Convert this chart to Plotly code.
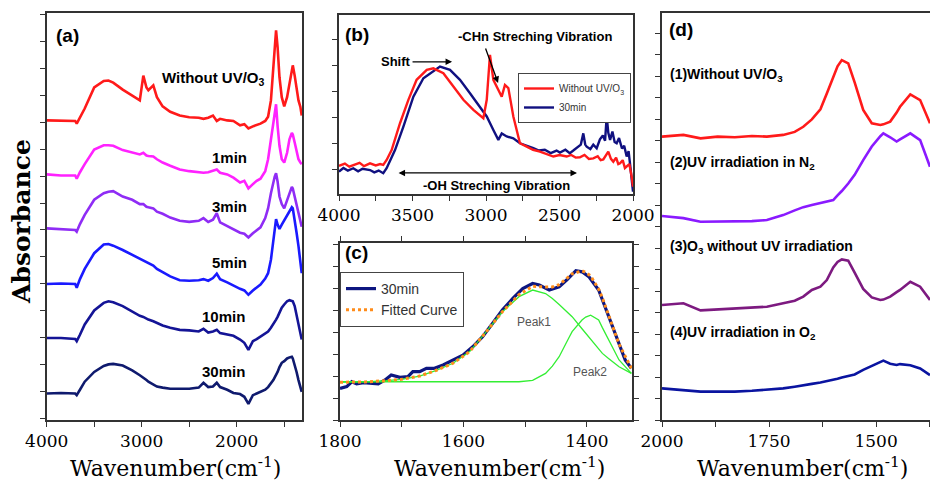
import plotly.graph_objects as go

# ---------------- data ----------------
# Panel (a): FTIR spectra vs UV/O3 time (stacked)
A_WN = [4000, 3850, 3700, 3684, 3650, 3600, 3500, 3400, 3350, 3300, 3200, 3100, 3020, 2983, 2950,
        2930, 2878, 2840, 2780, 2700, 2600, 2500, 2400, 2350, 2300, 2250, 2210, 2175, 2100, 2035,
        1965, 1920, 1877, 1830, 1790, 1750, 1700, 1670, 1640, 1615, 1600, 1586, 1570, 1550, 1526,
        1500, 1470, 1445, 1420, 1410, 1390, 1370, 1350, 1330, 1316]
A_WITHOUT = [0.03, 0.02, 0.02, -0.03, 0.08, 0.25, 0.64, 0.76, 0.77, 0.73, 0.60, 0.49, 0.40, 0.86, 0.64,
             0.59, 0.68, 0.46, 0.29, 0.19, 0.12, 0.09, 0.08, 0.06, 0.08, 0.12, 0.02, 0.06, 0.03, 0.02,
             -0.06, -0.04, -0.12, -0.08, -0.06, -0.03, 0.02, 0.10, 0.40, 1.02, 1.39, 1.70, 1.39, 0.83, 0.46,
             0.29, 0.46, 0.71, 1.02, 1.05, 0.86, 0.65, 0.40, 0.28, 0.12]
A_1MIN = [0.03, 0.01, 0.01, -0.05, 0.07, 0.22, 0.49, 0.57, 0.57, 0.56, 0.48, 0.43, 0.40, 0.43, 0.38,
          0.37, 0.36, 0.31, 0.25, 0.19, 0.12, 0.09, 0.07, 0.06, 0.07, 0.09, 0.12, 0.06, 0.03, -0.03,
          -0.12, -0.09, -0.23, -0.15, -0.09, -0.05, 0.09, 0.31, 0.68, 0.99, 1.17, 1.33, 0.93, 0.56, 0.31,
          0.25, 0.43, 0.68, 0.80, 0.77, 0.62, 0.46, 0.31, 0.25, 0.22]
A_3MIN = [0.03, 0.01, 0.00, -0.03, 0.11, 0.28, 0.56, 0.68, 0.71, 0.72, 0.62, 0.56, 0.48, 0.48, 0.43,
          0.42, 0.40, 0.34, 0.30, 0.23, 0.17, 0.15, 0.17, 0.22, 0.15, 0.19, 0.31, 0.14, 0.07, 0.01,
          -0.05, -0.07, -0.14, -0.06, 0.00, 0.05, 0.22, 0.40, 0.68, 0.90, 0.99, 1.05, 0.90, 0.62, 0.48,
          0.40, 0.56, 0.71, 0.80, 0.77, 0.62, 0.46, 0.28, 0.15, 0.06]
A_5MIN = [0.00, 0.01, 0.00, -0.07, 0.09, 0.28, 0.57, 0.73, 0.74, 0.71, 0.63, 0.54, 0.46, 0.43, 0.40,
          0.38, 0.34, 0.28, 0.22, 0.14, 0.07, 0.06, 0.07, 0.09, 0.06, 0.11, 0.19, 0.09, 0.03, -0.03,
          -0.09, -0.12, -0.20, -0.12, -0.06, -0.01, 0.10, 0.20, 0.45, 0.80, 1.05, 1.20, 1.10, 1.02, 1.10,
          1.18, 1.28, 1.36, 1.42, 1.40, 1.20, 0.95, 0.70, 0.42, 0.20]
A_10MIN = [0.00, 0.00, -0.02, -0.06, 0.06, 0.25, 0.51, 0.65, 0.68, 0.66, 0.59, 0.49, 0.41, 0.39, 0.35,
           0.34, 0.31, 0.28, 0.23, 0.19, 0.15, 0.14, 0.12, 0.17, 0.10, 0.12, 0.15, 0.09, 0.06, 0.04,
           -0.03, -0.09, -0.22, -0.06, -0.02, 0.03, 0.08, 0.12, 0.19, 0.25, 0.29, 0.34, 0.39, 0.46, 0.56,
           0.62, 0.68, 0.70, 0.69, 0.68, 0.59, 0.43, 0.25, 0.09, -0.03]
A_30MIN = [-0.03, -0.02, -0.03, -0.06, 0.04, 0.19, 0.37, 0.48, 0.51, 0.52, 0.49, 0.40, 0.31, 0.27, 0.22,
           0.19, 0.14, 0.10, 0.08, 0.06, 0.06, 0.06, 0.08, 0.17, 0.09, 0.10, 0.17, 0.09, 0.04, -0.02,
           -0.04, -0.09, -0.22, -0.06, -0.03, 0.00, 0.04, 0.09, 0.15, 0.22, 0.27, 0.31, 0.37, 0.46, 0.54,
           0.57, 0.62, 0.64, 0.65, 0.62, 0.51, 0.37, 0.22, 0.09, 0.00]
A_SERIES = [A_WITHOUT, A_1MIN, A_3MIN, A_5MIN, A_10MIN, A_30MIN]
A_LABELS = ["Without UV/O<sub>3</sub>", "1min", "3min", "5min", "10min", "30min"]

# Panel (b): OH / CHn stretching region
B_RED_WN = [4000, 3960, 3930, 3903, 3860, 3830, 3789, 3750, 3720, 3699, 3676, 3642, 3585, 3528, 3472,
            3403, 3358, 3290, 3222, 3154, 3086, 3018, 2995, 2973, 2950, 2916, 2893, 2871, 2848, 2814,
            2769, 2723, 2680, 2633, 2590, 2542, 2500, 2451, 2420, 2390, 2361, 2330, 2300, 2270, 2240,
            2220, 2202, 2185, 2168, 2150, 2134, 2115, 2100, 2088, 2070, 2055, 2043, 2025, 2009, 2000]
B_RED = [0.13, 0.22, 0.10, 0.17, 0.25, 0.12, 0.23, 0.15, 0.20, 0.17, 0.36, 0.74, 1.77, 2.67, 3.44,
         3.82, 3.88, 3.69, 3.18, 2.67, 2.28, 1.96, 2.67, 4.40, 3.44, 3.05, 2.79, 3.24, 3.12, 2.03,
         1.00, 0.87, 0.75, 0.68, 0.58, 0.49, 0.55, 0.49, 0.55, 0.45, 0.46, 0.55, 0.40, 0.42, 0.50,
         0.35, 0.38, 0.55, 0.68, 0.40, 0.29, 0.45, 0.20, 0.23, 0.35, 0.05, 0.10, 0.20, -0.28, -0.67]
B_BLUE_WN = [4000, 3970, 3940, 3903, 3870, 3840, 3789, 3760, 3730, 3699, 3676, 3619, 3562, 3494, 3426,
             3358, 3313, 3245, 3177, 3109, 3041, 2995, 2950, 2916, 2893, 2859, 2814, 2769, 2678, 2640,
             2600, 2560, 2520, 2497, 2460, 2430, 2406, 2380, 2355, 2338, 2325, 2315, 2290, 2270, 2247,
             2225, 2205, 2190, 2179, 2168, 2156, 2140, 2125, 2111, 2095, 2075, 2060, 2043, 2030, 2020,
             2009, 2000]
B_BLUE = [-0.09, 0.05, -0.05, 0.04, -0.08, 0.02, -0.03, -0.12, -0.05, -0.15, 0.04, 0.74, 1.64, 2.79, 3.50,
          3.76, 3.95, 3.82, 3.44, 2.92, 2.41, 2.03, 1.51, 1.13, 1.38, 1.26, 1.19, 1.00, 0.81, 0.72,
          0.75, 0.62, 0.72, 0.64, 0.75, 0.62, 0.72, 0.85, 0.95, 1.38, 0.95, 0.87, 0.78, 0.95, 0.81,
          1.15, 1.30, 1.10, 2.03, 1.40, 1.13, 1.45, 1.05, 1.00, 1.20, 0.80, 0.90, 0.49, 0.70, 0.20,
          -0.28, -0.86]

# Panel (c): peak fitting of the 30min spectrum
C_WN = [1800, 1789, 1781, 1773, 1762, 1752, 1738, 1727, 1717, 1703, 1690, 1682, 1671, 1660, 1647,
        1633, 1617, 1601, 1585, 1569, 1553, 1537, 1520, 1504, 1488, 1477, 1461, 1445, 1432, 1418,
        1408, 1397, 1381, 1365, 1348, 1338, 1328]
C_30MIN = [1.44, 1.52, 1.74, 1.64, 1.70, 1.67, 1.64, 1.82, 2.05, 1.94, 1.97, 2.20, 2.20, 2.35, 2.35,
           2.50, 2.73, 2.95, 3.33, 3.79, 4.39, 5.00, 5.53, 5.98, 6.21, 6.14, 5.91, 6.06, 6.39, 6.79,
           6.74, 6.52, 5.91, 4.70, 3.48, 2.73, 2.35]
C_FIT_WN = [1800, 1760, 1725, 1700, 1671, 1645, 1617, 1590, 1563, 1537, 1510, 1488, 1467, 1456, 1445,
            1429, 1424, 1408, 1402, 1394, 1381, 1375, 1365, 1348, 1328]
C_FITTED = [1.72, 1.73, 1.79, 1.85, 2.00, 2.25, 2.58, 3.11, 4.02, 4.92, 5.70, 6.08, 6.05, 6.05, 6.15,
            6.50, 6.65, 6.78, 6.72, 6.55, 5.95, 5.55, 4.75, 3.45, 2.35]
C_PEAK1 = [1.72, 1.73, 1.79, 1.85, 2.00, 2.25, 2.58, 3.11, 4.02, 4.92, 5.61, 5.91, 5.75, 5.53, 5.25,
           4.85, 4.70, 4.15, 3.94, 3.65, 3.20, 3.03, 2.80, 2.42, 2.12]
C_PEAK2 = [1.74, 1.74, 1.74, 1.74, 1.74, 1.74, 1.74, 1.74, 1.74, 1.74, 1.74, 1.80, 2.12, 2.45, 2.88,
           3.75, 4.02, 4.55, 4.68, 4.77, 4.55, 4.20, 3.64, 2.73, 2.12]

# Panel (d): different treatments
D_WN = [2000, 1950, 1910, 1870, 1830, 1790, 1755, 1717, 1690, 1670, 1650, 1630, 1615, 1600,
        1590, 1580, 1565, 1550, 1530, 1510, 1490, 1483, 1467, 1452, 1444, 1420, 1397, 1374]
D_1 = [13.18, 13.26, 13.10, 13.18, 13.15, 13.21, 13.18, 13.26, 13.40, 13.64, 13.98, 14.45, 15.19, 15.95,
       16.45, 16.74, 16.59, 15.70, 14.42, 13.80, 13.72, 13.75, 13.88, 14.30, 14.57, 15.14, 14.88, 13.80]
D_2 = [9.49, 9.39, 9.22, 9.22, 9.22, 9.25, 9.30, 9.53, 9.75, 9.90, 10.00, 10.10, 10.15, 10.23,
       10.45, 10.65, 11.00, 11.40, 12.09, 12.72, 13.20, 13.33, 13.15, 12.95, 13.05, 13.33, 13.02, 11.78]
D_3 = [5.35, 5.43, 5.10, 5.15, 5.19, 5.22, 5.27, 5.43, 5.55, 5.74, 6.05, 6.20, 6.51, 7.10,
       7.35, 7.47, 7.41, 6.85, 6.10, 5.70, 5.58, 5.60, 5.74, 5.95, 6.05, 6.43, 6.20, 5.58]
D_4 = [1.47, 1.40, 1.32, 1.32, 1.32, 1.36, 1.40, 1.47, 1.55, 1.63, 1.68, 1.74, 1.80, 1.86,
       1.92, 1.98, 2.05, 2.12, 2.33, 2.50, 2.68, 2.76, 2.62, 2.56, 2.60, 2.55, 2.40, 2.09]
D_SERIES = [D_1, D_2, D_3, D_4]
D_LABELS = ["(1)Without UV/O<sub>3</sub>", "(2)UV irradiation in N<sub>2</sub>",
            "(3)O<sub>3</sub> without UV irradiation", "(4)UV irradiation in O<sub>2</sub>"]

# ---------------- styles ----------------
A_COLORS = ["#ff1a1a", "#ff22ff", "#8f2cf5", "#1a1aff", "#141496", "#0f1a6e"]
A_OFFSETS = [5, 4, 3, 2, 1, 0]
D_COLORS = ["#ff1a1a", "#8a1aff", "#7d1a80", "#0a14a0"]
AXC = "#333333"
SERIF = "DejaVu Serif"
SANS = "Liberation Sans"

fig = go.Figure()

for vals, off, col in zip(A_SERIES, A_OFFSETS, A_COLORS):
    fig.add_trace(go.Scatter(x=A_WN, y=[v + off for v in vals], mode="lines",
                             line=dict(color=col, width=2.6), xaxis="x", yaxis="y",
                             showlegend=False, hoverinfo="skip"))

fig.add_trace(go.Scatter(x=B_BLUE_WN, y=B_BLUE, mode="lines", name="30min",
                         line=dict(color="#101080", width=2.4), xaxis="x2", yaxis="y2",
                         legend="legend", legendrank=2))
fig.add_trace(go.Scatter(x=B_RED_WN, y=B_RED, mode="lines", name="Without UV/O<sub>3</sub>",
                         line=dict(color="#ff1a1a", width=2.4), xaxis="x2", yaxis="y2",
                         legend="legend", legendrank=1))

fig.add_trace(go.Scatter(x=C_WN, y=C_30MIN, mode="lines", name="30min",
                         line=dict(color="#0d1680", width=3.2), xaxis="x3", yaxis="y3",
                         legend="legend2", legendrank=1))
fig.add_trace(go.Scatter(x=C_FIT_WN, y=C_PEAK1, mode="lines", line=dict(color="#33ee33", width=1.3),
                         xaxis="x3", yaxis="y3", showlegend=False))
fig.add_trace(go.Scatter(x=C_FIT_WN, y=C_PEAK2, mode="lines", line=dict(color="#33ee33", width=1.3),
                         xaxis="x3", yaxis="y3", showlegend=False))
fig.add_trace(go.Scatter(x=C_FIT_WN, y=C_FITTED, mode="lines", name="Fitted Curve",
                         line=dict(color="#ff8c1a", width=3, dash="dot"), xaxis="x3", yaxis="y3",
                         legend="legend2", legendrank=2))

for vals, col in zip(D_SERIES, D_COLORS):
    fig.add_trace(go.Scatter(x=D_WN, y=vals, mode="lines", line=dict(color=col, width=2.6),
                             xaxis="x4", yaxis="y4", showlegend=False))


def xax(domain, rng, anchor, tickvals, minor_dtick, mirror=True):
    return dict(domain=domain, range=rng, anchor=anchor, tickmode="array", tickvals=tickvals,
                ticks="outside", ticklen=5, tickwidth=1.2, tickcolor=AXC, automargin=False,
                showline=True, linecolor=AXC, linewidth=1.5, mirror=mirror,
                showgrid=False, zeroline=False,
                minor=dict(dtick=minor_dtick, tick0=0, ticks="outside", ticklen=5,
                           tickwidth=1.2, tickcolor=AXC),
                tickfont=dict(family=SERIF, size=17, color="black"))


def yax(domain, rng, anchor, dtick, minor_dtick=None, mirror=True):
    d = dict(domain=domain, range=rng, anchor=anchor, tick0=0, dtick=dtick,
             ticks="outside", ticklen=5, tickwidth=1.2, tickcolor=AXC, automargin=False,
             showline=True, linecolor=AXC, linewidth=1.5, mirror=mirror,
             showgrid=False, zeroline=False, showticklabels=False)
    if minor_dtick:
        d["minor"] = dict(dtick=minor_dtick, tick0=0, ticks="outside", ticklen=5,
                          tickwidth=1.2, tickcolor=AXC)
    return d


W, H = 930, 481
dom_a_x = [46.7 / W, 302 / W]
dom_b_x = [339 / W, 633 / W]
dom_c_x = [340 / W, 632 / W]
dom_d_x = [662 / W, 1.0]
dom_full_y = [(H - 420) / H, (H - 13) / H]
dom_b_y = [(H - 194) / H, (H - 15) / H]
dom_c_y = [(H - 420) / H, (H - 243) / H]

layout = dict(
    template="none", autosize=False,
    width=W, height=H, margin=dict(l=0, r=0, t=0, b=0, pad=0),
    paper_bgcolor="white", plot_bgcolor="white",
    xaxis=xax(dom_a_x, [4000, 1313], "y", [4000, 3000, 2000], 500),
    yaxis=yax(dom_full_y, [-0.52, 7.02], "x", 1, 0.5, mirror=True),
    xaxis2=xax(dom_b_x, [4000, 2000], "y2", [4000, 3500, 3000, 2500, 2000], 250),
    yaxis2=yax(dom_b_y, [-0.95, 5.93], "x2", 1),
    xaxis3=xax(dom_c_x, [1800, 1327], "y3", [1800, 1600, 1400], 100, mirror="ticks"),
    yaxis3=yax(dom_c_y, [0, 8.05], "x3", 1, mirror="ticks"),
    xaxis4=xax(dom_d_x, [2000, 1374], "y4", [2000, 1750, 1500], 125),
    yaxis4=yax(dom_full_y, [0, 18.93], "x4", 1, mirror=False),
    legend=dict(x=518 / W, y=(H - 73) / H, xanchor="left", yanchor="top",
                bordercolor="#444", borderwidth=1, bgcolor="white",
                font=dict(family=SANS, size=10, color="#333"), tracegroupgap=0, itemwidth=30),
    legend2=dict(x=340 / W, y=(H - 272) / H, xanchor="left", yanchor="top",
                 bordercolor="#444", borderwidth=1, bgcolor="white",
                 font=dict(family=SANS, size=14, color="#333"), tracegroupgap=0, itemwidth=30),
    showlegend=True,
)
fig.update_layout(**layout)

ann = []
# panel letters
for txt, xr, yr, x, y in [("(a)", "x", "y", 3786, 6.61), ("(b)", "x2", "y2", 3878, 5.17),
                          ("(c)", "x3", "y3", 1774, 7.62), ("(d)", "x4", "y4", 1956, 18.14)]:
    ann.append(dict(text="<b>" + txt + "</b>", x=x, y=y, xref=xr, yref=yr, showarrow=False,
                    xanchor="center", font=dict(family=SANS, size=19, color="black")))

# panel (a) series labels
A_LABEL_POS = [(2249, 5.80), (2081, 4.35), (2081, 3.44), (2081, 2.39), (2134, 1.39), (2134, 0.37)]
for txt, (x, y) in zip(A_LABELS, A_LABEL_POS):
    ann.append(dict(text="<b>" + txt + "</b>", x=x, y=y, xref="x", yref="y", showarrow=False,
                    xanchor="center", font=dict(family=SANS, size=15, color="black")))

# panel (b) annotations
ann.append(dict(text="<b>Shift</b>", x=3231, y=4.13, xref="x2", yref="y2", ax=-56, ay=0,
                showarrow=True, arrowhead=2, arrowsize=1, arrowwidth=1.3, arrowcolor="black",
                font=dict(family=SANS, size=13, color="black")))
ann.append(dict(text="<b>-CHn Streching Vibration</b>", x=2667, y=5.09, xref="x2", yref="y2",
                xanchor="center", showarrow=False, font=dict(family=SANS, size=13, color="black")))
ann.append(dict(text="", x=2918, y=3.32, xref="x2", yref="y2", ax=-13, ay=-36,
                showarrow=True, arrowhead=2, arrowsize=1, arrowwidth=1.3, arrowcolor="black"))
ann.append(dict(text="", x=2381, y=-0.14, xref="x2", yref="y2", ax=3605, ay=-0.14,
                axref="x2", ayref="y2", showarrow=True, arrowhead=2, startarrowhead=2,
                arrowside="end+start", arrowsize=1, arrowwidth=1.3, arrowcolor="black"))
ann.append(dict(text="<b>-OH Streching Vibration</b>", x=2932, y=-0.64, xref="x2", yref="y2",
                xanchor="center", showarrow=False, font=dict(family=SANS, size=13, color="black")))

# panel (c) peak labels
ann.append(dict(text="Peak1", x=1485, y=4.45, xref="x3", yref="y3", showarrow=False,
                xanchor="center", font=dict(family=SANS, size=12, color="#555")))
ann.append(dict(text="Peak2", x=1395, y=2.18, xref="x3", yref="y3", showarrow=False,
                xanchor="center", font=dict(family=SANS, size=12, color="#555")))

# panel (d) labels
D_LABEL_Y = [16.05, 11.95, 8.05, 4.05]
for txt, y in zip(D_LABELS, D_LABEL_Y):
    ann.append(dict(text="<b>" + txt + "</b>", x=1986, y=y, xref="x4", yref="y4", xanchor="left",
                    showarrow=False, font=dict(family=SANS, size=14, color="black")))

# axis titles
XT = "Wavenumber(cm<sup>-1</sup>)"
for xc in [175, 500, 802]:
    ann.append(dict(text=XT, x=xc / W, y=(H - 467) / H, xref="paper", yref="paper",
                    xanchor="center", yanchor="middle",
                    showarrow=False, font=dict(family=SERIF, size=22, color="black")))
ann.append(dict(text="<b>Absorbance</b>", x=21 / W, y=(H - 222) / H, xref="paper", yref="paper",
                xanchor="center", yanchor="middle",
                textangle=-90, showarrow=False, font=dict(family=SERIF, size=25, color="black")))

fig.update_layout(annotations=ann)
fig.write_html("out.html")
